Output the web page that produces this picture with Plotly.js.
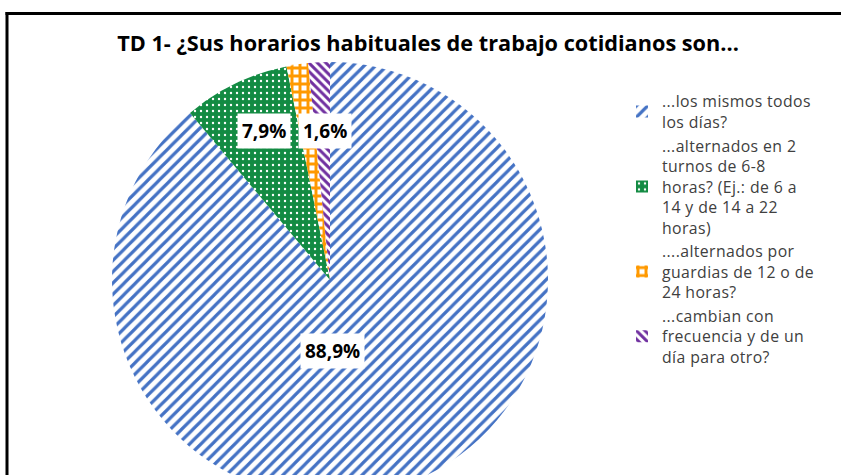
<!DOCTYPE html>
<html>
<head>
<meta charset="utf-8">
<script src="https://cdn.plot.ly/plotly-3.0.1.min.js"></script>
<style>
html,body{margin:0;padding:0;overflow:hidden;background:#fff;width:841px;height:475px;}
#chart{width:841px;height:520px;}
text.legendtext{letter-spacing:0.4px;}
</style>
</head>
<body>
<div id="chart"></div>
<script>
// ---- data ----
const categories = [
  "...los mismos todos<br>los días?",
  "...alternados en 2<br>turnos de 6-8<br>horas? (Ej.: de 6 a<br>14 y de 14 a 22<br>horas)",
  "....alternados por<br>guardias de 12 o de<br>24 horas?",
  "...cambian con<br>frecuencia y de un<br>día para otro?"
];
const values = [88.9, 7.9, 1.6, 1.6];
const showLabel = [true, true, false, true];
const chartTitle = "TD 1- ¿Sus horarios habituales de trabajo cotidianos son...";

// ---- styles ----
const W = 841, H = 520;
const colors = ["#4472C4", "#138B43", "#FF9900", "#7030A0"];
const patterns = [
  {shape: "/", fgcolor: "#4472C4", bgcolor: "#ffffff", size: 8, solidity: 0.4},
  {shape: ".", fgcolor: "#ffffff", bgcolor: "#138B43", size: 6, solidity: 0.12},
  {shape: "+", fgcolor: "#FF9900", bgcolor: "#ffffff", size: 8, solidity: 0.6},
  {shape: "\\", fgcolor: "#7030A0", bgcolor: "#ffffff", size: 6, solidity: 0.5}
];
// label placement (pixels in figure)
const labelPos = [[332, 351], [264, 131], null, [325, 131]];

const cx = 330, cy = 280, r = 218;

const trace = {
  type: "pie",
  labels: categories,
  values: values,
  sort: false,
  direction: "clockwise",
  rotation: 0,
  textinfo: "none",
  hoverinfo: "label+percent",
  marker: {
    colors: colors,
    pattern: {
      shape: patterns.map(p => p.shape),
      fgcolor: patterns.map(p => p.fgcolor),
      bgcolor: patterns.map(p => p.bgcolor),
      size: patterns.map(p => p.size),
      solidity: patterns.map(p => p.solidity),
      fillmode: "replace"
    },
    line: {width: 0}
  },
  domain: {x: [(cx - r) / W, (cx + r) / W], y: [1 - (cy + r) / H, 1 - (cy - r) / H]}
};

const fmt = v => v.toFixed(1).replace(".", ",") + "%";
const annotations = [];
values.forEach((v, i) => {
  if (!showLabel[i]) return;
  const p = labelPos[i];
  annotations.push({
    xref: "paper", yref: "paper",
    x: p[0] / W, y: 1 - p[1] / H,
    xanchor: "center", yanchor: "middle",
    text: "<b>" + fmt(v) + "</b>",
    showarrow: false,
    bgcolor: "#ffffff",
    borderpad: 4,
    font: {family: "Open Sans, sans-serif", size: 19, color: "#000000"}
  });
});

const layout = {
  width: W, height: H,
  margin: {l: 0, r: 0, t: 0, b: 0},
  paper_bgcolor: "#ffffff",
  title: {
    text: "<b>" + chartTitle + "</b>",
    x: 428 / W, xanchor: "center",
    y: 1 - 43 / H, yanchor: "middle", yref: "container",
    font: {family: "Open Sans, sans-serif", size: 21.7, color: "#000000"}
  },
  showlegend: true,
  legend: {
    x: 622 / W, xanchor: "left",
    y: 1 - 84.5 / H, yanchor: "top",
    font: {family: "Open Sans, sans-serif", size: 15.8, color: "#404040"},
    bgcolor: "rgba(0,0,0,0)",
    traceorder: "normal"
  },
  annotations: annotations,
  shapes: [
    {type: "line", xref: "paper", yref: "paper", x0: 7 / W, x1: 7 / W, y0: 1 - 12 / H, y1: 0, line: {color: "#000", width: 3}},
    {type: "line", xref: "paper", yref: "paper", x0: 5.5 / W, x1: 1, y0: 1 - 13.5 / H, y1: 1 - 13.5 / H, line: {color: "#000", width: 3}}
  ]
};

Plotly.newPlot("chart", [trace], layout, {displayModeBar: false, staticPlot: true});
</script>
</body>
</html>
